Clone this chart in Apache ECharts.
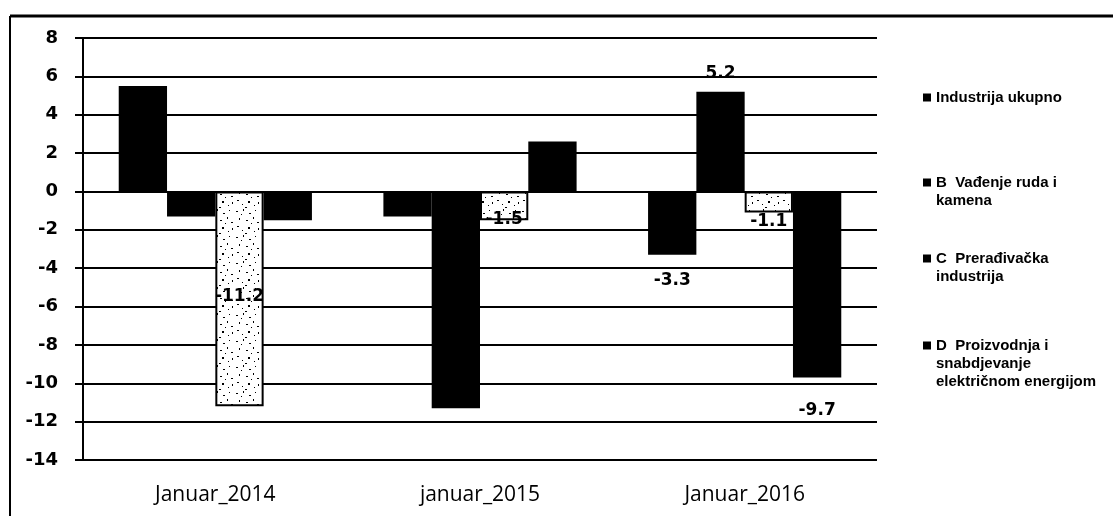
<!DOCTYPE html>
<html>
<head>
<meta charset="utf-8">
<script src="https://cdn.jsdelivr.net/npm/echarts@6/dist/echarts.min.js"></script>
<style>
html,body{margin:0;padding:0;background:#fff;}
#chart{width:1113px;height:516px;}
</style>
</head>
<body>
<div id="chart"></div>
<script>
// ---- data ----
const categories = ['Januar_2014', 'januar_2015', 'Januar_2016'];
const seriesNames = [
  'Industrija ukupno',
  'B  Vađenje ruda i kamena',
  'C  Prerađivačka industrija',
  'D  Proizvodnja i snabdjevanje električnom energijom'
];
const industrijaUkupno = [5.5, -1.3, -3.3];
const vadjenjeRuda = [-1.3, -11.3, 5.2];
const preradjivacka = [-11.2, -1.5, -1.1];
const proizvodnjaEnergije = [-1.5, 2.6, -9.7];
const yTicks = [-14, -12, -10, -8, -6, -4, -2, 0, 2, 4, 6, 8];

// which points carry a data label: [seriesIndex][categoryIndex]
const labelShown = [
  [false, false, true],
  [false, true, true],
  [true, true, true],
  [false, false, true]
];
// label placement config (style only)
const labelCfg = {
  '0-2': {position: 'bottom', distance: 17},
  '1-1': {position: 'inside', color: '#000'},
  '1-2': {position: 'top', distance: 10},
  '2-0': {position: 'inside', offset: [0, -2]},
  '2-1': {position: 'inside', offset: [0, 14]},
  '2-2': {position: 'inside', offset: [0, 20]},
  '3-2': {position: 'bottom', distance: 25}
};

// stipple pattern for series C (fixed speck layout)
function makePattern() {
  const c = document.createElement('canvas');
  c.width = 26; c.height = 26;
  const ctx = c.getContext('2d');
  ctx.fillStyle = '#fff';
  ctx.fillRect(0, 0, 26, 26);
  ctx.fillStyle = '#000';
  const specks = [[2,3,2,1],[9,1,1,2],[15,5,2,1],[21,2,1,1],[5,10,1,2],[12,12,2,1],[19,9,1,2],[23,14,2,1],
                  [3,18,2,1],[8,22,1,1],[14,19,2,2],[20,23,1,1],[17,15,1,1],[7,6,1,1],[24,20,1,2],[11,25,2,1]];
  specks.forEach(s => ctx.fillRect(s[0], s[1], s[2], s[3]));
  return c;
}
const pattern = {image: makePattern(), repeat: 'repeat'};

const valueArrays = [industrijaUkupno, vadjenjeRuda, preradjivacka, proizvodnjaEnergije];
const fillColors = ['#000', '#000', pattern, '#000'];

const labelFont = {fontFamily: 'DejaVu Sans', fontWeight: 'bold', fontSize: 17, color: '#000'};

const series = valueArrays.map((vals, si) => ({
  name: seriesNames[si],
  type: 'bar',
  barGap: '0%',
  barCategoryGap: '27%',
  itemStyle: si === 2
    ? {color: fillColors[si], borderColor: '#000', borderWidth: 2}
    : {color: fillColors[si]},
  emphasis: {disabled: true},
  data: vals.map((v, ci) => {
    const item = {value: v};
    if (labelShown[si][ci]) {
      const cfg = labelCfg[si + '-' + ci] || {position: 'inside'};
      item.label = Object.assign({show: true, formatter: String(v)}, labelFont, cfg);
    }
    return item;
  })
}));

// legend text (wrapped lines) with square marker in rich text
const legendLines = [
  ['Industrija ukupno'],
  ['B  Vađenje ruda i', 'kamena'],
  ['C  Prerađivačka', 'industrija'],
  ['D  Proizvodnja i', 'snabdjevanje', 'električnom energijom']
];
const legendTops = [85, 170, 246, 333];
const legends = seriesNames.map((n, i) => ({
  data: [n],
  orient: 'vertical',
  left: 913,
  top: legendTops[i],
  icon: 'none',
  itemWidth: 0,
  itemHeight: 0,
  selectedMode: false,
  formatter: () => legendLines[i].map((l, k) =>
    (k === 0 ? '{sq| }{g| }' : '{sp| }') + '{t|' + l + '}').join('\n'),
  textStyle: {
    rich: {
      sq: {width: 8, height: 8, backgroundColor: '#000'},
      g: {width: 5},
      sp: {width: 13},
      t: {fontFamily: 'Liberation Sans', fontWeight: 'bold', fontSize: 15, color: '#000', lineHeight: 18}
    }
  }
}));

const chart = echarts.init(document.getElementById('chart'), null, {renderer: 'canvas'});
chart.setOption({
  animation: false,
  backgroundColor: '#fff',
  grid: {left: 83, right: 236, top: 38, bottom: 56, containLabel: false},
  legend: legends,
  xAxis: {
    type: 'category',
    data: categories,
    axisLine: {show: false, onZero: false},
    axisTick: {show: false},
    axisLabel: {margin: 25, fontFamily: 'Open Sans', fontSize: 21, color: '#000'}
  },
  yAxis: {
    type: 'value',
    min: yTicks[0],
    max: yTicks[yTicks.length - 1],
    interval: 2,
    axisLine: {show: true, lineStyle: {color: '#000', width: 2}},
    axisTick: {show: true, length: 8, lineStyle: {color: '#000', width: 2}},
    splitLine: {show: true, lineStyle: {color: '#000', width: 2}},
    axisLabel: {margin: 25, fontFamily: 'DejaVu Sans', fontWeight: 'bold', fontSize: 18, color: '#000'}
  },
  graphic: [
    {type: 'line', shape: {x1: 10, y1: 16, x2: 1113, y2: 16}, style: {stroke: '#000', lineWidth: 3}, silent: true},
    {type: 'line', shape: {x1: 10, y1: 16, x2: 10, y2: 516}, style: {stroke: '#000', lineWidth: 2}, silent: true}
  ],
  series: series
});
</script>
</body>
</html>
